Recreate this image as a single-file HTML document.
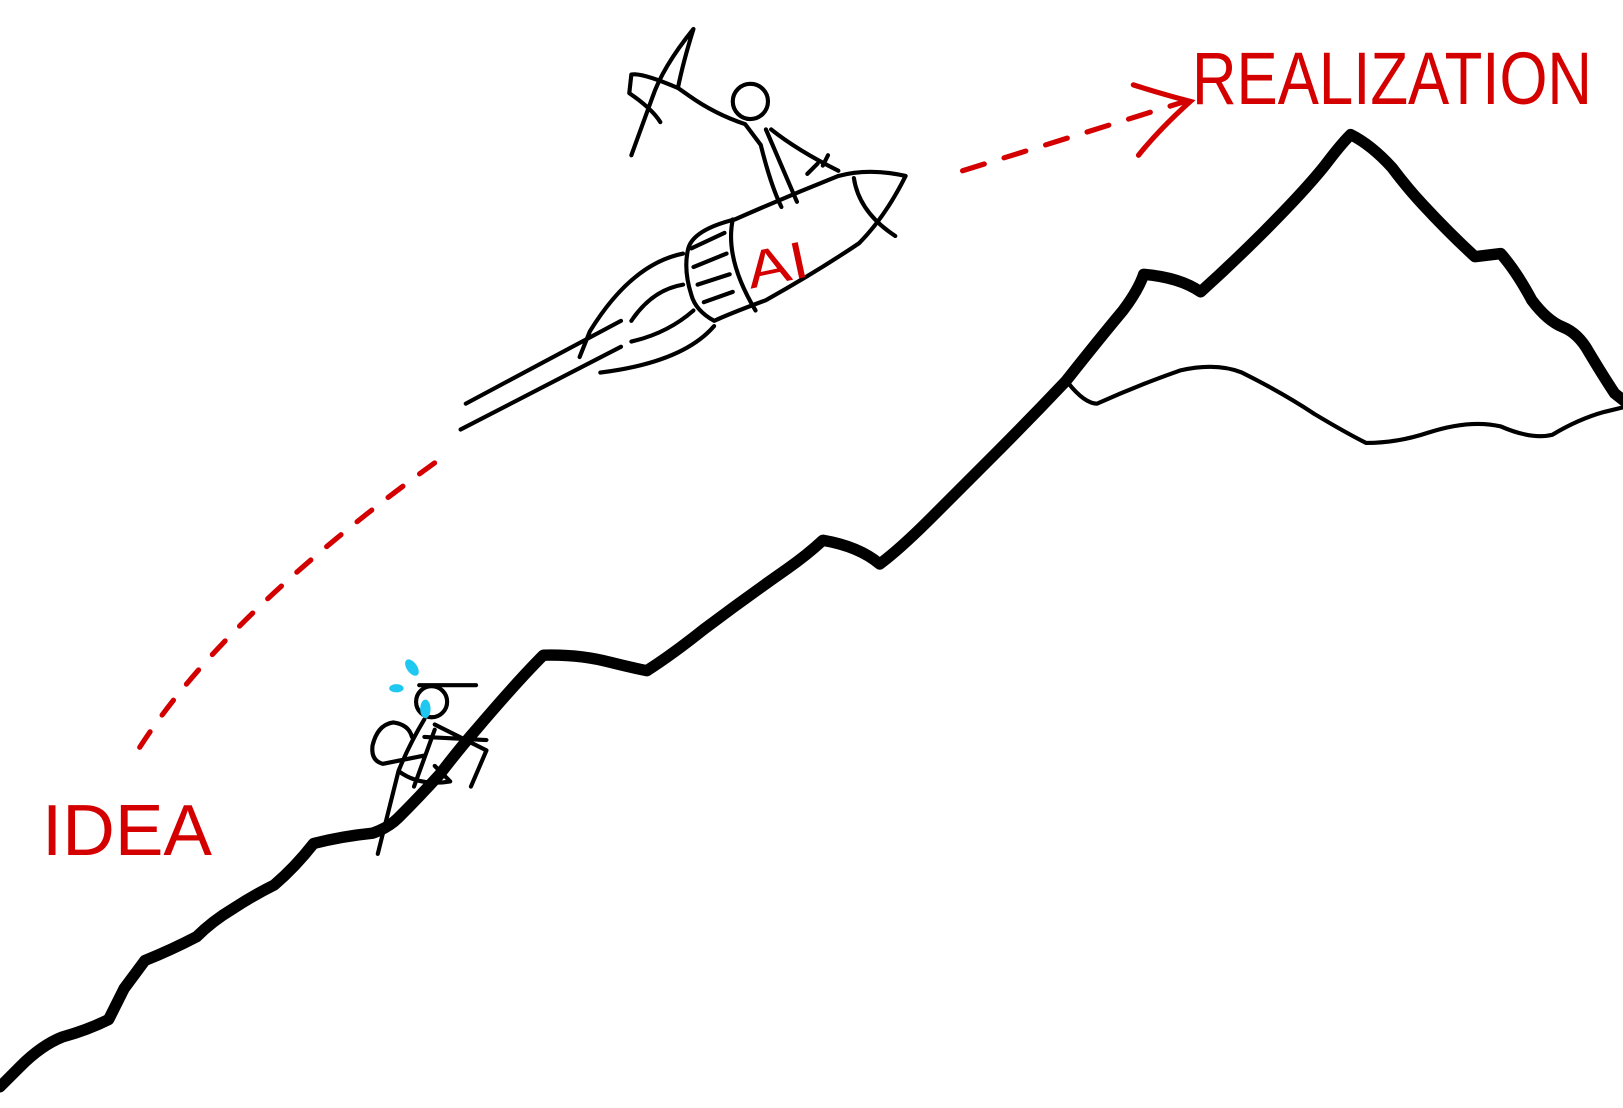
<!DOCTYPE html>
<html><head><meta charset="utf-8"><style>
html,body{margin:0;padding:0;background:#fff;}
svg{display:block}
</style></head><body>
<svg width="1623" height="1108" viewBox="0 0 1623 1108" xmlns="http://www.w3.org/2000/svg">
<rect width="1623" height="1108" fill="#fff"/>
<g transform="scale(1.035)">
<g fill="none" stroke="#000" stroke-linecap="round" stroke-linejoin="round">
<path stroke-width="11" d="M0,1050 L20,1030 Q40,1010 60,1002 Q85,995 105,985 L120,955 L140,928 Q165,918 190,905 Q205,890 225,878 Q245,865 265,855 Q285,838 303,815 Q330,808 360,805 Q375,800 385,790 Q405,770 425,748 Q445,722 460,705 Q500,658 525,633 Q560,632 590,640 Q610,645 625,648 Q650,632 680,608 Q720,578 760,550 Q780,536 795,522 Q830,528 850,545 Q870,530 900,500 Q930,470 960,440 Q995,405 1030,368 Q1060,330 1085,300 Q1100,280 1105,265 Q1140,268 1160,282 Q1190,255 1220,225 Q1260,185 1280,160 Q1295,140 1305,130 Q1325,140 1345,162 Q1360,182 1375,198 Q1400,225 1425,248 L1450,245 Q1465,262 1480,290 Q1495,310 1510,316 Q1525,322 1535,340 Q1550,365 1560,380 L1575,392"/>
<path stroke-width="4" d="M1032,370 Q1048,390 1060,390 Q1100,372 1140,358 Q1175,350 1200,360 Q1240,380 1270,400 Q1300,418 1320,428 Q1350,428 1380,418 Q1420,405 1450,412 Q1480,425 1500,420 Q1525,405 1550,398 L1575,392"/>
<path stroke-width="4" d="M710,212 Q760,190 810,170 Q840,162 875,170 Q855,210 830,235 Q790,262 740,290 Q705,303 690,310 Q672,300 668,285 Q660,260 665,240 Q670,222 710,212"/>
<path stroke-width="4" d="M708,212 Q700,250 730,300"/>
<path stroke-width="4" d="M825,172 Q830,205 865,228"/>
<path stroke-width="4" d="M668,240 L700,225 M670,258 L702,245 M674,275 L705,265 M680,292 L708,282"/>
<path stroke-width="4" d="M660,245 Q610,255 570,320 L560,345 M660,275 Q630,280 610,310 M670,300 Q645,322 610,330 M690,315 Q660,350 580,360 M600,310 L450,390 M600,335 L445,415"/>
<circle stroke-width="4" cx="725" cy="98" r="17"/>
<path stroke-width="4" d="M720,120 L735,140 Q745,180 755,200 M740,125 Q755,160 770,195 M745,125 Q770,145 810,165 M795,160 L800,150 M780,168 L790,158 M720,120 Q690,110 665,92 L655,85 Q660,60 670,28 Q640,65 630,95 L610,150 M655,85 Q620,70 610,72 L608,90 Q630,105 638,118"/>
<circle stroke-width="4" cx="417" cy="678" r="15"/>
<path stroke-width="4" d="M405,662 L460,662 M410,695 Q395,720 385,745 L365,825 M420,700 Q440,710 470,725 L455,760 M420,705 L400,760 M385,745 Q405,760 435,755 L420,740 M398,712 Q395,700 380,698 Q365,700 360,720 Q358,735 370,738 L410,730 M410,712 L470,715"/>
</g>
<g fill="#1ec8f0">
<ellipse cx="398" cy="645" rx="5" ry="9" transform="rotate(-35 398 645)"/>
<ellipse cx="383" cy="665" rx="7" ry="4"/>
<ellipse cx="411" cy="685" rx="5" ry="9"/>
</g>
<g fill="none" stroke="#d40000" stroke-width="5" stroke-linecap="round">
<path stroke-dasharray="18 20" d="M135,722 Q220,590 430,440"/>
<path stroke-dasharray="22 20" d="M930,165 L1145,98"/>
<path d="M1095,82 Q1120,90 1150,98 Q1120,125 1100,150"/>
</g>
</g>
<g fill="#d40000" font-family="'Liberation Sans',sans-serif">
<text x="1192" y="104" font-size="74" textLength="400" lengthAdjust="spacingAndGlyphs">REALIZATION</text>
<text x="42" y="855" font-size="72" textLength="170" lengthAdjust="spacingAndGlyphs">IDEA</text>
<text x="745" y="283" font-size="52" textLength="62" lengthAdjust="spacingAndGlyphs" transform="rotate(-12 775 260)">AI</text>
</g>
</svg>
</body></html>
